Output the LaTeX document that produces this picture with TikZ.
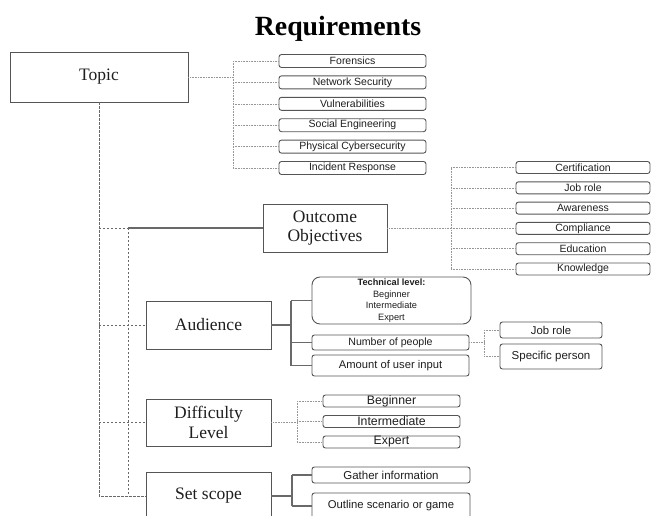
\documentclass[tikz,border=0pt]{standalone}
\usepackage{fontspec}
\setmainfont{Liberation Serif}
\setsansfont{Liberation Sans}
\definecolor{boxline}{RGB}{85,85,85}
\definecolor{wireline}{RGB}{105,105,105}
\definecolor{dotline}{RGB}{150,150,150}
\definecolor{inktext}{RGB}{30,30,30}
\tikzset{
  mainbox/.style={draw=boxline, line width=0.9pt, rectangle, inner sep=0pt,
    align=center, text=inktext, font=\fontsize{17.5}{18.5}\selectfont},
  leafbox/.style={draw=boxline, line width=0.9pt, rounded corners=2.5pt, inner sep=0pt,
    align=center, text=inktext, font=\sffamily\fontsize{10.5}{12}\selectfont},
  trunk/.style={draw=wireline, line width=0.9pt, dash pattern=on 2.4pt off 1.6pt},
  twig/.style={draw=dotline, line width=0.6pt, dash pattern=on 0.8pt off 0.8pt},
  stem/.style={draw=wireline, line width=1.2pt},
}
\begin{document}
\begin{tikzpicture}[x=1pt, y=-1pt]
\useasboundingbox (0,0) rectangle (651,515);
\clip (0,0) rectangle (651,515);

% title
\node[anchor=base, font=\bfseries\fontsize{27.8}{30}\selectfont, text=black] (title) at (338,35) {Requirements};

% main boxes
\node[mainbox, minimum width=178pt, minimum height=50pt] (topic) at (99,77) {Topic};
\node[mainbox, minimum width=124pt, minimum height=48pt] (outcome) at (325,228) {Outcome\\Objectives};
\node[mainbox, minimum width=125pt, minimum height=48pt] (audience) at (208.5,325) {Audience};
\node[mainbox, minimum width=125pt, minimum height=47pt, font=\fontsize{17.5}{20}\selectfont] (difficulty) at (208.5,422.5) {Difficulty\\Level};
\node[mainbox, minimum width=125pt, minimum height=48pt] (scope) at (208.5,496) {Set scope};

% topic leaves
\foreach \t [count=\i] in {Forensics, Network Security, Vulnerabilities, Social Engineering, Physical Cybersecurity, Incident Response}
  \node[leafbox, minimum width=147pt, minimum height=13pt] (t\i) at (352.5,{61+21.4*(\i-1)}) {\t};

% outcome leaves
\foreach \t [count=\i] in {Certification, Job role, Awareness, Compliance, Education, Knowledge}
  \node[leafbox, minimum width=134pt, minimum height=12pt] (o\i) at (583,{167.5+20.3*(\i-1)}) {\t};

% audience leaves
\node[leafbox, rounded corners=8pt, minimum width=159pt, minimum height=47pt, font=\sffamily\fontsize{9.2}{11.5}\selectfont] (tech) at (391.5,300.5)
  {\textbf{Technical level:}\\Beginner\\Intermediate\\Expert};
\node[leafbox, minimum width=157pt, minimum height=15pt, font=\sffamily\fontsize{10.6}{12}\selectfont] (people) at (390.5,342.5) {Number of people};
\node[leafbox, minimum width=157pt, minimum height=21pt, font=\sffamily\fontsize{11.2}{12}\selectfont] (input) at (390.5,365.5) {Amount of user input};
\node[leafbox, minimum width=102pt, minimum height=16pt, font=\sffamily\fontsize{11.3}{12}\selectfont] (jobrole) at (551,330) {Job role};
\node[leafbox, minimum width=102pt, minimum height=25pt, font=\sffamily\fontsize{11.5}{12}\selectfont] (person) at (551,356.5) {Specific person};

% difficulty leaves
\foreach \t [count=\i] in {Beginner, Intermediate, Expert}
  \node[leafbox, minimum width=137pt, minimum height=12pt, font=\sffamily\fontsize{12.3}{13}\selectfont] (d\i) at (391.5,{401+20.5*(\i-1)}) {\t};

% scope leaves
\node[leafbox, minimum width=158pt, minimum height=16pt, font=\sffamily\fontsize{11.5}{12}\selectfont] (gather) at (391,475) {Gather information};
\node[leafbox, minimum width=158pt, minimum height=26pt, font=\sffamily\fontsize{11.3}{12}\selectfont] (outline) at (391,506) {Outline scenario or game};

% main trunk
\coordinate (trunkend) at (topic.south |- scope.west);
\coordinate (inner) at (128,228);
\draw[trunk] (topic.south) -- (trunkend) -- (scope.west);
\draw[trunk] (topic.south |- inner) -- (inner);
\draw[stem] (inner) -- (outcome.west);
\draw[trunk] (inner) -- (inner |- scope.west);
\draw[trunk] (topic.south |- audience.west) -- (audience.west);
\draw[trunk] (topic.south |- difficulty.west) -- (difficulty.west);

% topic branches
\coordinate (tbus) at (233,77);
\draw[twig] (topic.east) -- (tbus);
\draw[twig] (tbus |- t1.west) -- (tbus |- t6.west);
\foreach \i in {1,...,6} \draw[twig] (tbus |- t\i.west) -- (t\i.west);

% outcome branches
\coordinate (obus) at (451,228);
\draw[twig] (outcome.east) -- (obus);
\draw[twig] (obus |- o1.west) -- (obus |- o6.west);
\foreach \i in {1,...,6} \draw[twig] (obus |- o\i.west) -- (o\i.west);

% audience branches
\coordinate (abus) at (291,325);
\draw[stem] (audience.east) -- (abus);
\draw[stem] (abus |- tech.west) -- (abus |- input.west);
\draw[stem] (abus |- tech.west) -- (tech.west);
\draw[stem] (abus |- people.west) -- (people.west);
\draw[stem] (abus |- input.west) -- (input.west);

% number of people branches
\coordinate (pbus) at (484,342.5);
\draw[twig] (people.east) -- (pbus);
\draw[twig] (pbus |- jobrole.west) -- (pbus |- person.west);
\draw[twig] (pbus |- jobrole.west) -- (jobrole.west);
\draw[twig] (pbus |- person.west) -- (person.west);

% difficulty branches
\coordinate (dbus) at (297,422.5);
\draw[twig] (difficulty.east) -- (dbus);
\draw[twig] (dbus |- d1.west) -- (dbus |- d3.west);
\foreach \i in {1,2,3} \draw[twig] (dbus |- d\i.west) -- (d\i.west);

% scope branches
\coordinate (sbus) at (292,496);
\draw[stem] (scope.east) -- (sbus);
\draw[stem] (sbus |- gather.west) -- (sbus |- outline.west);
\draw[stem] (sbus |- gather.west) -- (gather.west);
\draw[stem] (sbus |- outline.west) -- (outline.west);
\end{tikzpicture}
\end{document}
